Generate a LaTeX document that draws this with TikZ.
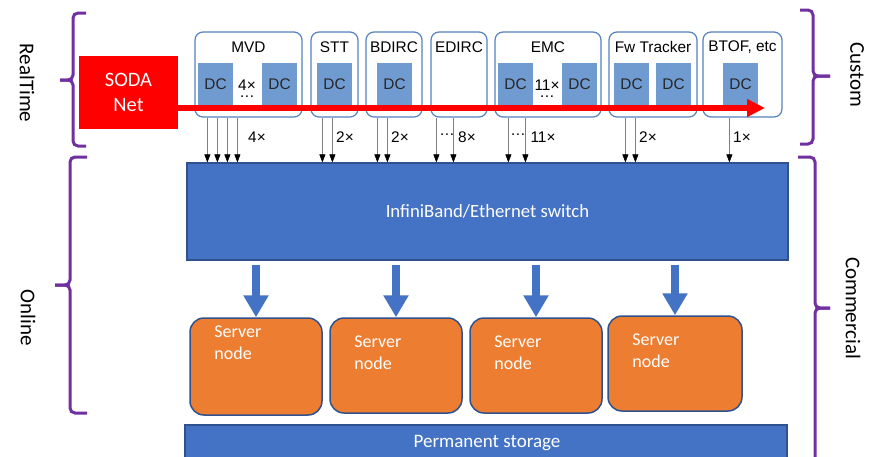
\documentclass[tikz,border=0pt]{standalone}
\usepackage{fontspec}
\setmainfont{Carlito}
\newfontfamily\arialfont{Liberation Sans}
\usetikzlibrary{arrows.meta,positioning}

\definecolor{swblue}{RGB}{68,114,196}
\definecolor{edgeblue}{RGB}{47,82,143}
\definecolor{detline}{RGB}{84,130,190}
\definecolor{dcblue}{RGB}{112,155,208}
\definecolor{srvorange}{RGB}{237,125,49}
\definecolor{bracepurple}{RGB}{112,48,160}

\begin{document}
\begin{tikzpicture}
[x=1pt,y=-1pt,
 det node/.style={draw=detline,line width=1.2pt,rounded corners=8pt,fill=white,minimum height=85pt,inner sep=0pt},
 det title/.style={font=\arialfont\fontsize{15.4}{17}\selectfont,inner sep=0pt},
 dc node/.style={fill=dcblue,minimum width=35pt,minimum height=42pt,inner sep=0pt,font=\arialfont\fontsize{15.4}{17}\selectfont,text=black!85},
 feed/.style={draw=black!50,line width=0.6pt,-{Triangle[width=6pt,length=8pt,color=black]}},
 count/.style={font=\arialfont\fontsize{15.4}{17}\selectfont,inner sep=0pt},
 multi/.style={count,align=center},
 blue box/.style={fill=swblue,draw=edgeblue,line width=1.2pt,inner sep=0pt,text=white},
 server/.style={fill=srvorange,draw=edgeblue,line width=1.5pt,rounded corners=14pt,minimum height=95pt,minimum width=132pt,inner sep=0pt},
 server text/.style={text=white,align=left,font=\fontsize{18}{22}\selectfont,inner sep=0pt,anchor=north west},
 flow/.style={draw=swblue,line width=7.5pt,-{Triangle[width=24pt,length=22pt]}},
 brace/.style={draw=bracepurple,line width=3pt,rounded corners=5pt},
 side label/.style={font=\fontsize{21}{24}\selectfont,rotate=-90}]

  \clip (0,0) rectangle (873,456);

  % detector boxes
  \node (mvd) [det node, minimum width=107pt] at (248.5,74.5) {};
  \node (stt) [det node, minimum width=47pt] at (334.5,74.5) {};
  \node (bdirc) [det node, minimum width=56pt] at (394,74.5) {};
  \node (edirc) [det node, minimum width=56pt] at (459,74.5) {};
  \node (emc) [det node, minimum width=106pt] at (548,74.5) {};
  \node (fwt) [det node, minimum width=88pt] at (653,74.5) {};
  \node (btof) [det node, minimum width=79pt] at (742.5,74.5) {};

  \node (mvdt) [det title] at ([yshift=-16pt]mvd.north) {MVD};
  \node (sttt) [det title] at ([yshift=-16pt]stt.north) {STT};
  \node (bdirct) [det title] at ([yshift=-16pt]bdirc.north) {BDIRC};
  \node (edirct) [det title] at ([yshift=-16pt]edirc.north) {EDIRC};
  \node (emct) [det title] at ([yshift=-16pt]emc.north) {EMC};
  \node (fwtt) [det title] at ([yshift=-16pt]fwt.north) {Fw Tracker};
  \node (btoft) [det title] at ([yshift=-16pt]btof.north) {BTOF, etc};

  % data concentrators
  \node (mvd1) [dc node] at (215.5,84) {DC};
  \node (mvd2) [dc node] at (279.5,84) {DC};
  \node (mvdn) [multi] at (247,89) {4×\\[-10pt]\ldots};
  \node (stt1) [dc node] at (334.5,84) {DC};
  \node (bdirc1) [dc node] at (394.5,84) {DC};
  \node (emc1) [dc node] at (515.5,84) {DC};
  \node (emc2) [dc node] at (579.5,84) {DC};
  \node (emcn) [multi] at (547,89) {11×\\[-10pt]\ldots};
  \node (fwt1) [dc node] at (631.5,84) {DC};
  \node (fwt2) [dc node] at (673.5,84) {DC};
  \node (btof1) [dc node] at (740.5,84) {DC};

  % SODA net
  \node (soda) [fill=red,minimum width=99pt,minimum height=73pt,inner sep=0pt,text=white,align=center,
                font=\fontsize{20.5}{25}\selectfont] at (128.5,92.5) {SODA\\Net};
  \coordinate (netend) at (765,108);

  % switch
  \node (sw) [blue box,minimum width=601pt,minimum height=97pt,font=\fontsize{18.7}{21}\selectfont]
        at (487.5,211.5) {InfiniBand/Ethernet switch};

  % links to the switch
  \foreach \dx in {13,23,33,43}
    \draw [feed] ([xshift=\dx pt]mvd.south west) -- ([xshift=\dx pt]mvd.south west |- sw.north);
  \foreach \dx in {12,22}
    \draw [feed] ([xshift=\dx pt]stt.south west) -- ([xshift=\dx pt]stt.south west |- sw.north);
  \foreach \dx in {12,22}
    \draw [feed] ([xshift=\dx pt]bdirc.south west) -- ([xshift=\dx pt]bdirc.south west |- sw.north);
  \foreach \dx in {6,23}
    \draw [feed] ([xshift=\dx pt]edirc.south west) -- ([xshift=\dx pt]edirc.south west |- sw.north);
  \foreach \dx in {14,31}
    \draw [feed] ([xshift=\dx pt]emc.south west) -- ([xshift=\dx pt]emc.south west |- sw.north);
  \foreach \dx in {17,27}
    \draw [feed] ([xshift=\dx pt]fwt.south west) -- ([xshift=\dx pt]fwt.south west |- sw.north);
  \draw [feed] ([xshift=27pt]btof.south west) -- ([xshift=27pt]btof.south west |- sw.north);

  \node (mvdl) [count] at (257,137) {4×};
  \node (sttl) [count] at (345,137) {2×};
  \node (bdircl) [count] at (400,137) {2×};
  \node (edircd) [count] at (447,135) {\ldots};
  \node (edircl) [count] at (467,137) {8×};
  \node (emcld) [count] at (518,135) {\ldots};
  \node (emcl) [count] at (543,137) {11×};
  \node (fwtl) [count] at (648,137) {2×};
  \node (btofl) [count] at (742,137) {1×};

  % red net arrow on top of the boxes
  \draw [red,line width=6pt,-{Triangle[width=17pt,length=18pt]}] (soda.east |- netend) -- (netend);

  % server nodes
  \node (srv1) [server,minimum height=97pt] at (256,366.5) {};
  \node (srv2) [server] at (396,365.5) {};
  \node (srv3) [server] at (536,365.5) {};
  \node (srv4) [server,minimum width=134pt] at (675,363.5) {};
  \node (srv1t) [server text] at ([shift={(25pt,-8pt)}]srv1.north west) {Server\\node};
  \node (srv2t) [server text] at ([shift={(25pt,-18pt)}]srv2.north west) {Server\\node};
  \node (srv3t) [server text] at ([shift={(25pt,-18pt)}]srv3.north west) {Server\\node};
  \node (srv4t) [server text] at ([shift={(25pt,-18pt)}]srv4.north west) {Server\\node};

  \foreach \s in {srv1,srv2,srv3,srv4}
    \draw [flow] ([yshift=-4pt]sw.south -| \s.north) -- (\s.north);

  % storage
  \node (store) [blue box,minimum width=602pt,minimum height=50pt] at (486,450) {};
  \node (storet) [text=white,font=\fontsize{19}{22}\selectfont] at (487,443) {Permanent storage};

  % braces
  \draw [brace] (86,13) -- (73,13) -- (73,80) -- (60,80);
  \draw [brace] (60,80) -- (73,80) -- (73,146) -- (86,146);
  \draw [brace] (87,157) -- (70,157) -- (70,285) -- (55,285);
  \draw [brace] (55,285) -- (70,285) -- (70,413) -- (87,413);
  \draw [brace] (800,10) -- (813,10) -- (813,76) -- (830,76);
  \draw [brace] (830,76) -- (813,76) -- (813,144) -- (800,144);
  \draw [brace] (798,157) -- (815,157) -- (815,308) -- (830,308);
  \draw [brace] (830,308) -- (815,308) -- (815,470) -- (798,470);

  \node (rt) [side label] at (27,83) {RealTime};
  \node (onl) [side label] at (28,318) {Online};
  \node (cus) [side label] at (857,75) {Custom};
  \node (com) [side label] at (853,308) {Commercial};

\end{tikzpicture}
\end{document}
